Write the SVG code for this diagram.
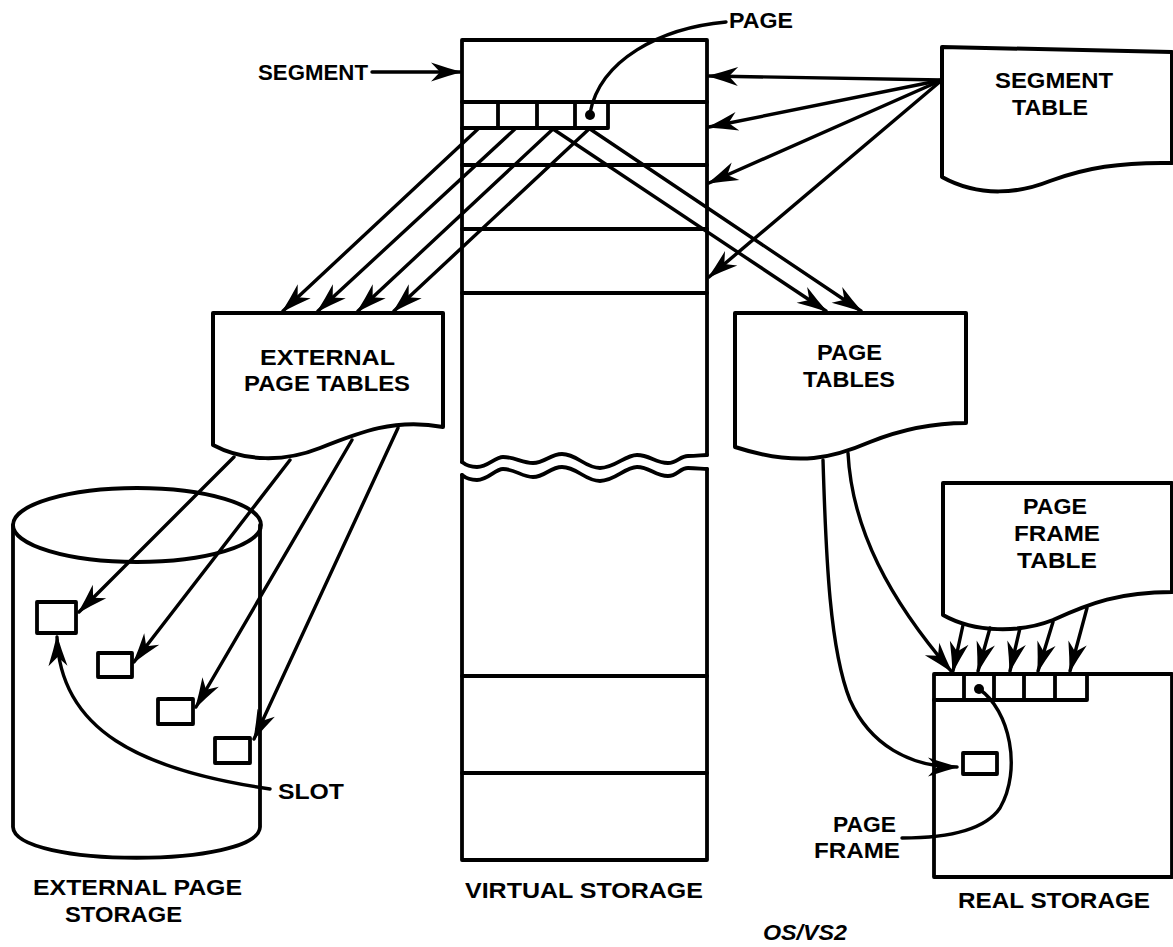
<svg xmlns="http://www.w3.org/2000/svg" width="1173" height="947" viewBox="0 0 1173 947">
<style>
.box{fill:#fff;stroke:#000;stroke-width:4;stroke-linejoin:round}
.ln{fill:none;stroke:#000;stroke-width:3.8;stroke-linecap:round;stroke-linejoin:round}
.ar{fill:none;stroke:#000;stroke-width:3.4;stroke-linecap:round;marker-end:url(#ah)}
.cv{fill:none;stroke:#000;stroke-width:3.4;stroke-linecap:round}
.t{font-family:"Liberation Sans",Arial,Helvetica,sans-serif;font-weight:bold;font-size:22px;fill:#000}
</style>
<defs>
<marker id="ah" markerUnits="userSpaceOnUse" markerWidth="36" markerHeight="24" refX="30" refY="12" orient="auto">
<path d="M32,12 Q17,8 1,2.5 L10,12 L1,21.5 Q17,16 32,12 Z" fill="#000"/>
</marker>
</defs>
<rect width="1173" height="947" fill="#fff"/>

<g id="virtual-storage">
<path class="ln" d="M462 462 V40 H707 V455"/>
<path class="ln" d="M462 462 C467 466,472 467,477 467 C488 467,495 457,503 457 C515 457,522 463,533 463 C545 463,550 454,562 454 C577 454,585 468,600 468 C615 468,625 455,637 455 C650 455,655 463,668 463 C677 463,680 456,688 456 C697 456,702 455,707 455"/>
<path class="ln" d="M462 475 C467 479,472 480,477 480 C488 480,495 469,503 469 C515 469,522 477,533 477 C545 477,550 467,562 467 C577 467,585 481,600 481 C615 481,625 467,637 467 C650 467,655 476,668 476 C677 476,680 468,688 468 C697 468,702 469,707 469"/>
<path class="ln" d="M462 475 V860 H707 V469"/>
<path class="ln" d="M462 102 H707 M462 128 H608 M498 102 V128 M537 102 V128 M575 102 V128 M608 102 V128 M462 165 H707 M462 229 H707 M462 293 H707 M462 676 H707 M462 773 H707"/>
<circle cx="590" cy="115" r="5" fill="#000"/>
<text class="t" x="465" y="898" textLength="238" lengthAdjust="spacingAndGlyphs">VIRTUAL STORAGE</text>
</g>

<g id="segment-label">
<text class="t" x="258" y="80" textLength="110" lengthAdjust="spacingAndGlyphs">SEGMENT</text>
</g>

<g id="page-label">
<text class="t" x="729" y="28" textLength="64" lengthAdjust="spacingAndGlyphs">PAGE</text>
</g>

<g id="segment-table">
<path class="box" d="M942 47 L1172 52 V163 C1120 162,1085 168,1050 181 C1020 193,980 198,942 177 Z"/>
<text class="t" x="995" y="88" textLength="118" lengthAdjust="spacingAndGlyphs">SEGMENT</text>
<text class="t" x="1012" y="115" textLength="76" lengthAdjust="spacingAndGlyphs">TABLE</text>
</g>

<g id="external-page-tables">
<path class="box" d="M213 313 H443 V427 C395 418,360 432,320 448 C285 462,245 462,213 445 Z"/>
<text class="t" x="260" y="365" textLength="135" lengthAdjust="spacingAndGlyphs">EXTERNAL</text>
<text class="t" x="244" y="391" textLength="166" lengthAdjust="spacingAndGlyphs">PAGE TABLES</text>
</g>

<g id="page-tables">
<path class="box" d="M735 313 H966 V423 C930 423,900 430,870 442 C835 457,800 468,735 447 Z"/>
<text class="t" x="817" y="360" textLength="65" lengthAdjust="spacingAndGlyphs">PAGE</text>
<text class="t" x="803" y="387" textLength="92" lengthAdjust="spacingAndGlyphs">TABLES</text>
</g>

<g id="page-frame-table">
<path class="box" d="M943 483 H1172 V592 C1120 592,1090 603,1053 620 C1020 633,975 633,943 615 Z"/>
<text class="t" x="1023" y="514" textLength="64" lengthAdjust="spacingAndGlyphs">PAGE</text>
<text class="t" x="1014" y="541" textLength="86" lengthAdjust="spacingAndGlyphs">FRAME</text>
<text class="t" x="1017" y="568" textLength="80" lengthAdjust="spacingAndGlyphs">TABLE</text>
</g>

<g id="external-page-storage">
<path class="ln" d="M13 525 V827 C15 868,258 868,260 827 V525"/>
<ellipse class="ln" cx="137" cy="525" rx="124" ry="37"/>
<rect class="ln" x="37" y="602" width="39" height="31"/>
<rect class="ln" x="98" y="653" width="34" height="24"/>
<rect class="ln" x="158" y="699" width="35" height="25"/>
<rect class="ln" x="215" y="738" width="35" height="25"/>
<text class="t" x="278" y="799" textLength="66" lengthAdjust="spacingAndGlyphs">SLOT</text>
<text class="t" x="33" y="895" textLength="209" lengthAdjust="spacingAndGlyphs">EXTERNAL PAGE</text>
<text class="t" x="65" y="922" textLength="117" lengthAdjust="spacingAndGlyphs">STORAGE</text>
</g>

<g id="real-storage">
<rect class="ln" x="934" y="674" width="238" height="203"/>
<path class="ln" d="M934 700 H1087 M964 674 V700 M994 674 V700 M1024 674 V700 M1055 674 V700 M1087 674 V700"/>
<circle cx="979" cy="689" r="5" fill="#000"/>
<rect class="ln" x="963" y="753" width="34" height="21"/>
<text class="t" x="833" y="832" textLength="63" lengthAdjust="spacingAndGlyphs">PAGE</text>
<text class="t" x="814" y="858" textLength="86" lengthAdjust="spacingAndGlyphs">FRAME</text>
<text class="t" x="958" y="908" textLength="192" lengthAdjust="spacingAndGlyphs">REAL STORAGE</text>
</g>

<g id="caption">
<text class="t" x="763" y="940" textLength="84" lengthAdjust="spacingAndGlyphs" font-style="italic">OS/VS2</text>
</g>

<g id="connectors">
<path class="ar" d="M372 72 H460"/>
<path class="cv" d="M726 22 C660 28,600 60,590 113"/>
<path class="ar" d="M942 80 L709 76"/>
<path class="ar" d="M942 80 L709 127"/>
<path class="ar" d="M942 80 L709 183"/>
<path class="ar" d="M942 80 L709 277"/>
<path class="ar" d="M478 129 L283 311"/>
<path class="ar" d="M515 129 L318 311"/>
<path class="ar" d="M553 129 L358 311"/>
<path class="ar" d="M589 129 L394 311"/>
<path class="ar" d="M553 129 L826 311"/>
<path class="ar" d="M590 129 L861 311"/>
<path class="ar" d="M234 457 L79 612"/>
<path class="ar" d="M290 460 L134 662"/>
<path class="ar" d="M352 440 L196 707"/>
<path class="ar" d="M398 428 L254 739"/>
<path class="ar" d="M270 789 C140 770,60 730,57 637"/>
<path class="ar" d="M823 460 C826 560,830 650,850 700 C870 745,910 767,957 767"/>
<path class="ar" d="M848 453 C852 530,890 600,951 671"/>
<path class="ar" d="M963 625 L953 671"/>
<path class="ar" d="M990 628 L978 671"/>
<path class="ar" d="M1020 628 L1010 671"/>
<path class="ar" d="M1053 622 L1038 671"/>
<path class="ar" d="M1087 608 L1070 671"/>
<path class="cv" d="M979 689 C1010 710,1022 770,1000 808 C985 830,950 838,902 838"/>
</g>
</svg>
